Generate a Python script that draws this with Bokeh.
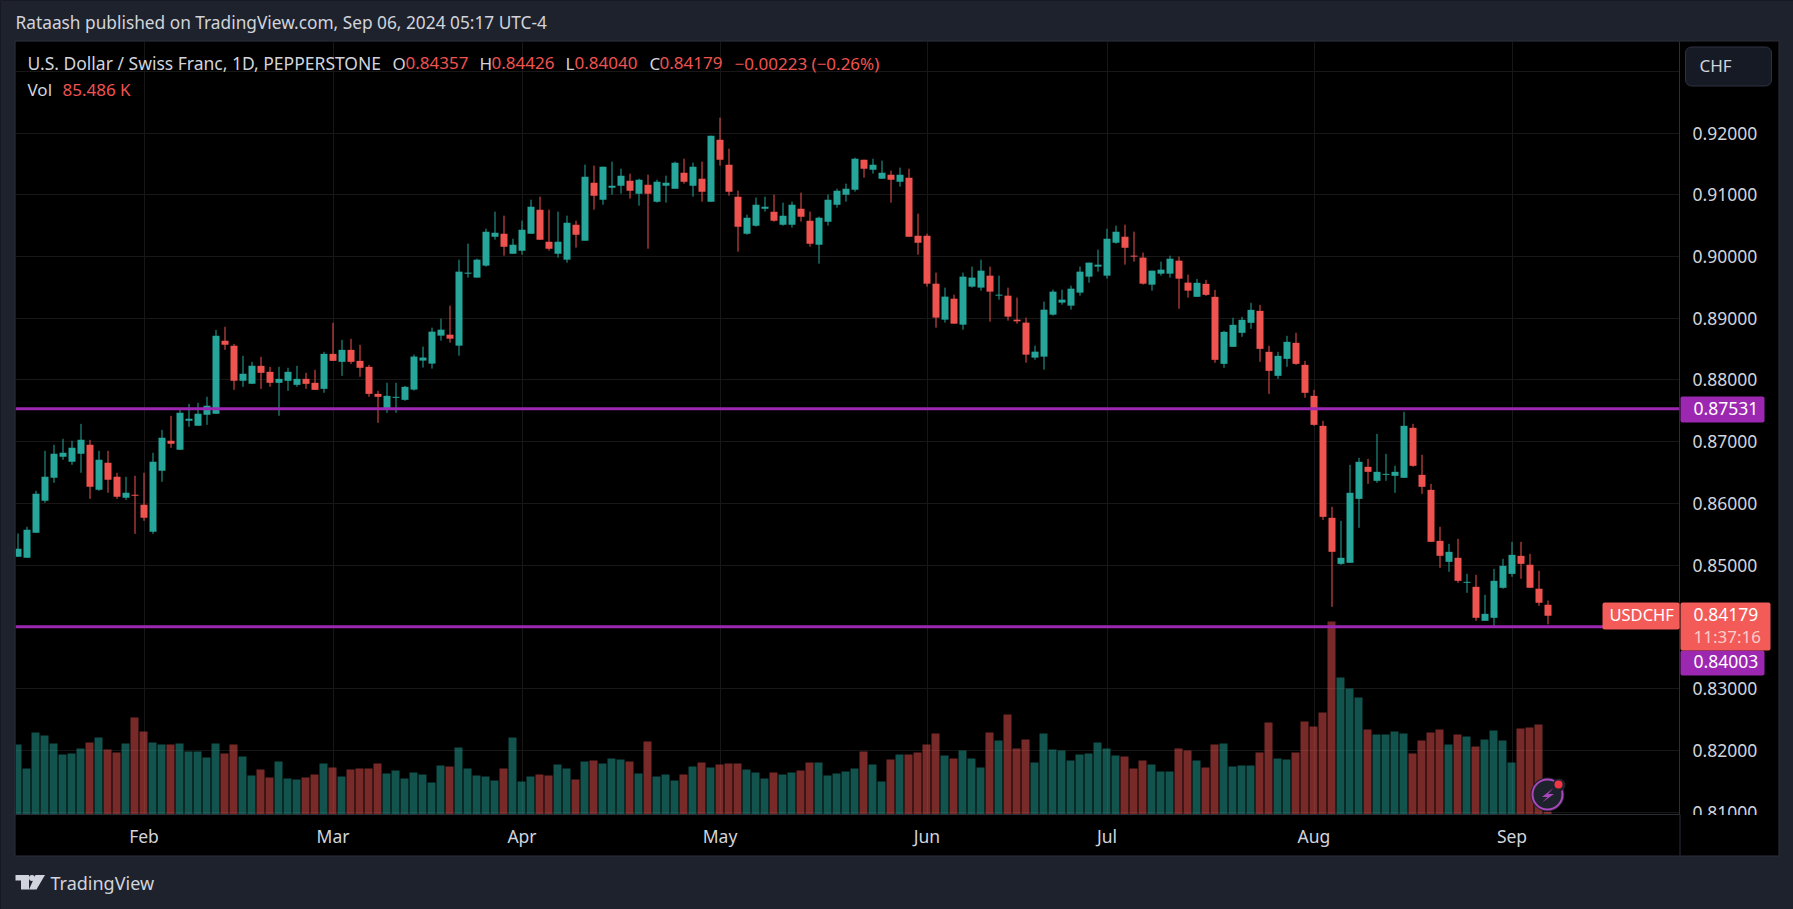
from bokeh.plotting import figure
from bokeh.models import (Range1d, FixedTicker, NumeralTickFormatter, Span, Label,
                          BoxAnnotation, PolyAnnotation, ColumnDataSource)
from bokeh.embed import file_html
from bokeh.resources import INLINE
from bokeh.transform import dodge

opens = [.85134,.85118,.85523,.86041,.86414,.86754,.86673,.86802,.86948,.86219,.86657,.86430,.86090,.86138,.85976,.85539,.86527,.87013,.86867,.87337,
.87256,.87434,.87450,.88633,.88552,.87985,.87936,.88228,.88131,.87953,.87985,.87920,.88017,.87953,.87855,.88422,.88293,.88487,.88309,.88212,
.87774,.87531,.87710,.87677,.87843,.88313,.88264,.88717,.88733,.88555,.89721,.89657,.89851,.90321,.90369,.90045,.90094,.90369,.90758,.90240,
.90045,.89948,.90515,.90256,.91196,.90920,.91115,.91147,.91228,.91017,.91163,.90888,.91147,.91098,.91358,.91147,.91260,.90888,.91892,.91487,
.90969,.90369,.90499,.90774,.90726,.90515,.90515,.90774,.90580,.90191,.90564,.90839,.91001,.91082,.91568,.91406,.91260,.91325,.91212,.91277,
.90337,.90337,.89559,.88976,.89316,.88895,.89511,.89495,.89689,.89365,.89365,.88976,.88928,.88361,.88377,.89057,.89252,.89203,.89414,.89673,
.89835,.89689,.90224,.90321,.90013,.89981,.89543,.89721,.89721,.89932,.89576,.89346,.89556,.89346,.88260,.88536,.88763,.88925,.89119,.88455,
.88066,.88341,.88601,.88244,.87742,.87256,.85766,.85020,.85037,.86073,.86592,.86365,.86462,.86446,.86414,.87224,.86462,.86219,.85393,.85053,
.85118,.84713,.84648,.84097,.84146,.84632,.84858,.85150,.85004,.84616,.84357]
highs = [.85512,.85620,.86203,.86851,.86948,.87045,.87013,.87288,.87029,.86851,.86851,.86495,.86430,.86446,.86495,.86819,.87191,.87418,.87531,.87612,
.87629,.87726,.88811,.88860,.88584,.88390,.88293,.88374,.88212,.88212,.88196,.88228,.88115,.88163,.88455,.88925,.88649,.88665,.88568,.88244,
.87823,.87953,.87953,.87904,.88410,.88540,.88847,.88992,.89203,.89948,.90207,.89964,.90450,.90726,.90661,.90288,.90580,.90920,.90969,.90758,
.90726,.90661,.90580,.91487,.91471,.91455,.91536,.91422,.91341,.91260,.91325,.91244,.91309,.91536,.91584,.91520,.91536,.91957,.92249,.91746,
.91066,.90677,.90953,.90969,.91001,.90872,.90888,.91034,.90726,.90645,.91001,.91098,.91179,.91601,.91568,.91584,.91552,.91390,.91439,.91422,
.90693,.90369,.89738,.89495,.89381,.89738,.89835,.89948,.89835,.89689,.89495,.89333,.89009,.88555,.89268,.89462,.89462,.89527,.89835,.89900,
.90110,.90450,.90499,.90515,.90402,.90062,.89770,.89916,.90013,.89997,.89705,.89637,.89621,.89459,.88795,.89006,.89022,.89249,.89216,.88552,
.88455,.88714,.88763,.88309,.87839,.87337,.85944,.85717,.86624,.86738,.86721,.87126,.86802,.86608,.87483,.87288,.86786,.86316,.85620,.85344,
.85425,.84858,.84842,.84518,.84939,.85101,.85377,.85377,.85182,.84907,.84426]
lows = [.85134,.85118,.85523,.86009,.86333,.86705,.86624,.86495,.86073,.86203,.86171,.86073,.86057,.85506,.85717,.85506,.86349,.86900,.86867,.87240,
.87256,.87272,.87450,.88487,.87839,.87888,.87936,.87855,.87888,.87418,.87823,.87888,.87855,.87839,.87791,.88309,.88066,.88260,.88050,.87726,
.87304,.87467,.87467,.87661,.87827,.88200,.88183,.88636,.88604,.88393,.89657,.89657,.89835,.90272,.90013,.90045,.90029,.90369,.90272,.90094,
.89981,.89900,.90143,.90256,.90758,.90839,.91001,.91017,.90936,.90823,.90126,.90872,.90872,.91098,.91179,.90969,.90888,.90888,.91471,.90985,
.90078,.90353,.90483,.90726,.90564,.90499,.90467,.90564,.90159,.89883,.90499,.90791,.90888,.91050,.91277,.91341,.91260,.90872,.91131,.90321,
.90029,.89511,.88847,.88928,.88911,.88814,.89495,.89446,.88944,.89300,.88960,.88911,.88280,.88328,.88166,.89041,.89219,.89138,.89365,.89576,
.89754,.89640,.90207,.89867,.89916,.89543,.89446,.89689,.89657,.89154,.89333,.89346,.89362,.88277,.88196,.88536,.88698,.88827,.88293,.87774,
.88017,.88212,.88244,.87710,.87256,.85733,.84324,.85004,.85037,.85604,.86316,.86333,.86365,.86171,.86414,.86592,.86154,.85377,.84956,.84891,
.84713,.84551,.84097,.84097,.83999,.84616,.84810,.84778,.84632,.84340,.84040]
closes = [.85263,.85571,.86154,.86430,.86802,.86819,.86900,.87029,.86268,.86705,.86381,.86106,.86171,.86122,.85766,.86673,.87062,.86964,.87467,.87369,
.87450,.87580,.88714,.88568,.87985,.88098,.88228,.88115,.87953,.88017,.88131,.88017,.87936,.87839,.88422,.88309,.88487,.88293,.88196,.87774,
.87726,.87742,.87726,.87888,.88378,.88362,.88782,.88814,.88668,.89754,.89738,.89948,.90402,.90386,.90159,.90191,.90434,.90807,.90272,.90126,
.90240,.90548,.90353,.91293,.90985,.91455,.91147,.91309,.91066,.91244,.91017,.91212,.91196,.91520,.91212,.91455,.91050,.91957,.91568,.91050,
.90483,.90629,.90839,.90807,.90580,.90661,.90839,.90645,.90207,.90629,.90920,.91066,.91098,.91584,.91422,.91487,.91358,.91244,.91325,.90321,
.90224,.89559,.89009,.89349,.88911,.89673,.89657,.89770,.89430,.89381,.89025,.88949,.88409,.88458,.89138,.89430,.89300,.89478,.89754,.89900,
.89867,.90288,.90402,.90143,.89997,.89559,.89770,.89786,.89964,.89640,.89446,.89573,.89378,.88325,.88779,.88892,.88973,.89135,.88503,.88147,
.88390,.88617,.88260,.87791,.87272,.85782,.85215,.85118,.86171,.86673,.86511,.86511,.86478,.86511,.87256,.86608,.86268,.85377,.85150,.85215,
.84745,.84729,.84146,.84210,.84745,.84988,.85166,.85020,.84632,.84389,.84179]
volumes_k = [2100,1380,2460,2370,2130,1800,1830,1980,2160,2310,1950,1860,2130,2910,2490,2160,2100,2100,2130,1890,1890,1710,2130,1830,2100,1740,1170,1350,1110,1590,
1080,1050,1110,1200,1530,1410,1140,1350,1380,1380,1530,1230,1320,1080,1260,1200,960,1470,1440,2010,1380,1170,1140,1020,1380,
2310,990,1140,1200,1170,1500,1380,1050,1590,1620,1530,1680,1650,1590,1230,2190,1140,1200,1020,1200,1440,1560,1410,1500,1530,1530,1350,1260,1080,1260,1200,1260,1320,
1560,1560,1170,1230,1290,1380,1890,1500,990,1650,1800,1800,1860,2100,2430,1770,1680,1920,1680,1410,2460,2220,
3000,1980,2250,1560,2430,1950,1920,1620,1800,1830,2160,1980,1770,1740,1380,1620,1500,1290,1290,1980,1920,1620,1410,2100,2130,1440,1470,1470,1860,2760,
1680,1650,1860,2790,2640,3060,5790,4110,3780,3510,2550,2400,2400,2490,2430,1830,2220,2460,2550,2100,2400,2340,2040,2250,2520,2220,1560,2580,2610,2700,85.486]
month_positions = [14, 35, 56, 78, 101, 121, 144, 166]
month_labels = ["Feb", "Mar", "Apr", "May", "Jun", "Jul", "Aug", "Sep"]
price_ticks = [.81, .82, .83, .84, .85, .86, .87, .88, .89, .90, .91, .92, .93]
level_prices = [0.87531, 0.84003]

assert len(opens) == len(highs) == len(lows) == len(closes) == len(volumes_k) == 171

BG = "#1e222d"; BORDER = "#2a2e39"; TXT = "#d1d4dc"; UP = "#26a69a"; DOWN = "#ef5350"; PURPLE = "#9c27b0"
FONT = "Noto Sans"
F_L, F_R, F_T, F_B = 15, 1679, 41, 814
W, H = 1793, 909

idx = list(range(len(opens)))
colors = [UP if cl >= op else DOWN for op, cl in zip(opens, closes)]
src = ColumnDataSource(dict(x=idx, o=opens, h=highs, l=lows, c=closes, v=volumes_k, color=colors,
                            top=[max(a, b) for a, b in zip(opens, closes)],
                            bot=[min(a, b) for a, b in zip(opens, closes)]))

x_start = (F_L - 17.5) / 9
x_end = (F_R - 17.5) / 9
PX = 0.11 / 679
y_top = .92 + (132.5 - F_T) * PX
y_bot = .92 - (F_B - 132.5) * PX

p = figure(width=W, height=H, output_backend="svg", toolbar_location=None,
           x_range=Range1d(x_start, x_end), y_range=Range1d(y_bot, y_top),
           y_axis_location="right", background_fill_color="#000000", border_fill_color="#000000",
           min_border_left=F_L, min_border_right=W - F_R,
           min_border_top=F_T, min_border_bottom=H - F_B, outline_line_color=None,
           styles={"position": "absolute", "left": "0px", "top": "0px", "z-index": "1"})

p.extra_y_ranges["vol"] = Range1d(0, (F_B - F_T) * 30)

# axes and grid
for ax in (p.yaxis[0], p.xaxis[0]):
    ax.axis_line_color = BORDER
    ax.major_tick_line_color = None
    ax.minor_tick_line_color = None
    ax.major_label_text_color = TXT
    ax.major_label_text_font = FONT
    ax.major_label_text_font_size = "17.5px"
p.yaxis[0].ticker = FixedTicker(ticks=price_ticks)
p.yaxis[0].formatter = NumeralTickFormatter(format="0.00000")
p.yaxis[0].major_label_standoff = 7
p.xaxis[0].ticker = FixedTicker(ticks=month_positions)
p.xaxis[0].major_label_overrides = dict(zip(month_positions, month_labels))
p.xaxis[0].major_label_standoff = 3
p.grid.grid_line_color = "#171717"
p.grid.grid_line_width = 1

# volume
p.vbar(x=dodge("x", -0.5 / 9), width=8 / 9, bottom=0, top="v", source=src, fill_color="color", fill_alpha=0.5,
       line_color=None, y_range_name="vol")
# candles
p.segment(x0="x", x1="x", y0="l", y1="h", source=src, line_color="color", line_width=1)
p.vbar(x="x", width=7 / 9, bottom="bot", top="top", source=src, fill_color="color", line_color=None)

# horizontal levels
for lv in level_prices:
    p.add_layout(Span(location=lv, dimension="width", line_color=PURPLE, line_width=3, level="annotation"))

# transparent full-page layer for the surround, legend, price tags and logo
overlay = figure(width=W, height=H, output_backend="svg", toolbar_location=None,
                 x_range=Range1d(0, W), y_range=Range1d(H, 0), x_axis_type=None, y_axis_type=None,
                 min_border_left=0, min_border_right=0, min_border_top=0, min_border_bottom=0,
                 background_fill_alpha=0, border_fill_alpha=0, outline_line_color=None,
                 styles={"position": "absolute", "left": "0px", "top": "0px", "z-index": "2",
                         "width": f"{W}px", "height": f"{H}px"})
overlay.grid.visible = False
LV = "annotation"


def box(l, t, r, b, fill, line=None, radius=0, alpha=1.0, lw=1):
    a = BoxAnnotation(left=l, right=r, top=t, bottom=b,
                      left_units="canvas", right_units="canvas", top_units="canvas", bottom_units="canvas",
                      fill_color=fill, fill_alpha=alpha, line_color=line, line_alpha=1.0 if line else 0,
                      line_width=lw if line else 0, level=LV, border_radius=radius, editable=False)
    overlay.add_layout(a)
    return a


def label(x, y, text, color=TXT, size=17, align="left", alpha=1.0):
    a = Label(x=x, y=y - 1.5, x_units="canvas", y_units="canvas", text=text, text_color=color,
              text_font=FONT, text_font_size=f"{size}px", text_align=align, text_baseline="middle",
              text_alpha=alpha, level=LV)
    overlay.add_layout(a)
    return a


def poly(xs, ys, fill):
    a = PolyAnnotation(xs=xs, ys=ys, xs_units="canvas", ys_units="canvas",
                       fill_color=fill, fill_alpha=1, line_color=None, level=LV, editable=False)
    overlay.add_layout(a)
    return a


# page surround and widget border
box(1680, 814.5, 1778, 830, "#000000")           # clips the lowest price label at the time strip
box(0, 0, W, 40.5, BG)
box(0, 855.5, W, H, BG)
box(0, 40, 14.5, 856, BG)
box(1778.5, 40, W, 856, BG)
box(14.5, 40.5, 1778.5, 855.5, "#000000", BORDER, alpha=0)
box(1679, 814, 1680, 855, BORDER)

# header
label(15, 23.5, "Rataash published on TradingView.com, Sep 06, 2024 05:17 UTC-4", TXT, 17.3)
# legend
label(27, 64, "U.S. Dollar / Swiss Franc, 1D, PEPPERSTONE", TXT, 17.5)
for lx, k, vx, v in [(392, "O", 405, "0.84357"), (479, "H", 491, "0.84426"), (565, "L", 574, "0.84040"), (649, "C", 659, "0.84179")]:
    label(lx, 64, k, TXT)
    label(vx, 64, v, DOWN)
label(734, 64, "\u22120.00223 (\u22120.26%)", DOWN)
label(27, 90, "Vol", TXT)
label(62, 90, "85.486 K", DOWN)

# CHF button
box(1685, 46.5, 1771, 85.5, "#161a25", "#2e3240", radius=6)
label(1699, 66, "CHF", TXT)

# price tags
box(1680, 396, 1764, 422, PURPLE, radius=2)
label(1693, 409, "0.87531", "#ffffff", 17.5)
box(1680, 650, 1764, 675, PURPLE, radius=2)
label(1693, 662, "0.84003", "#ffffff", 17.5)
box(1602, 602, 1679, 629, "#f25b57", radius=2)
label(1609, 615, "USDCHF", "#ffffff", 16.5)
box(1680, 602, 1770, 650, "#f25b57", radius=2)
label(1693, 615, "0.84179", "#ffffff", 17.5)
label(1693, 637, "11:37:16", "#ffffff", 17, alpha=0.7)

# alert icon
box(1530, 777, 1564, 811, "#1e222d", radius=17)
box(1532, 779, 1562, 809, "#1e222d", "#ab47bc", radius=15, lw=2)
poly([1553, 1541.5, 1547, 1541.5, 1553.5, 1547.5], [787.5, 796.5, 796.5, 802, 793.5, 793.5], "#ab47bc")
box(1552, 778, 1565, 791, "#1e222d", radius=7)
box(1554, 780, 1562, 788, "#f23645", radius=4)

# footer logo
poly([15, 28.5, 28.5, 20.5, 20.5, 15], [874.5, 874.5, 889, 889, 880, 880], TXT)
box(28.5, 874.5, 34.5, 880.5, TXT, radius=3)
poly([35, 44.5, 36, 28.5], [874.5, 874.5, 889, 889], TXT)
label(50, 883.5, "TradingView", TXT, 18)

html = file_html([p, overlay], INLINE)
html = html.replace("</head>", f"<style>html,body{{background:{BG};overflow:hidden}}</style></head>", 1)
open("out.html", "w").write(html)
